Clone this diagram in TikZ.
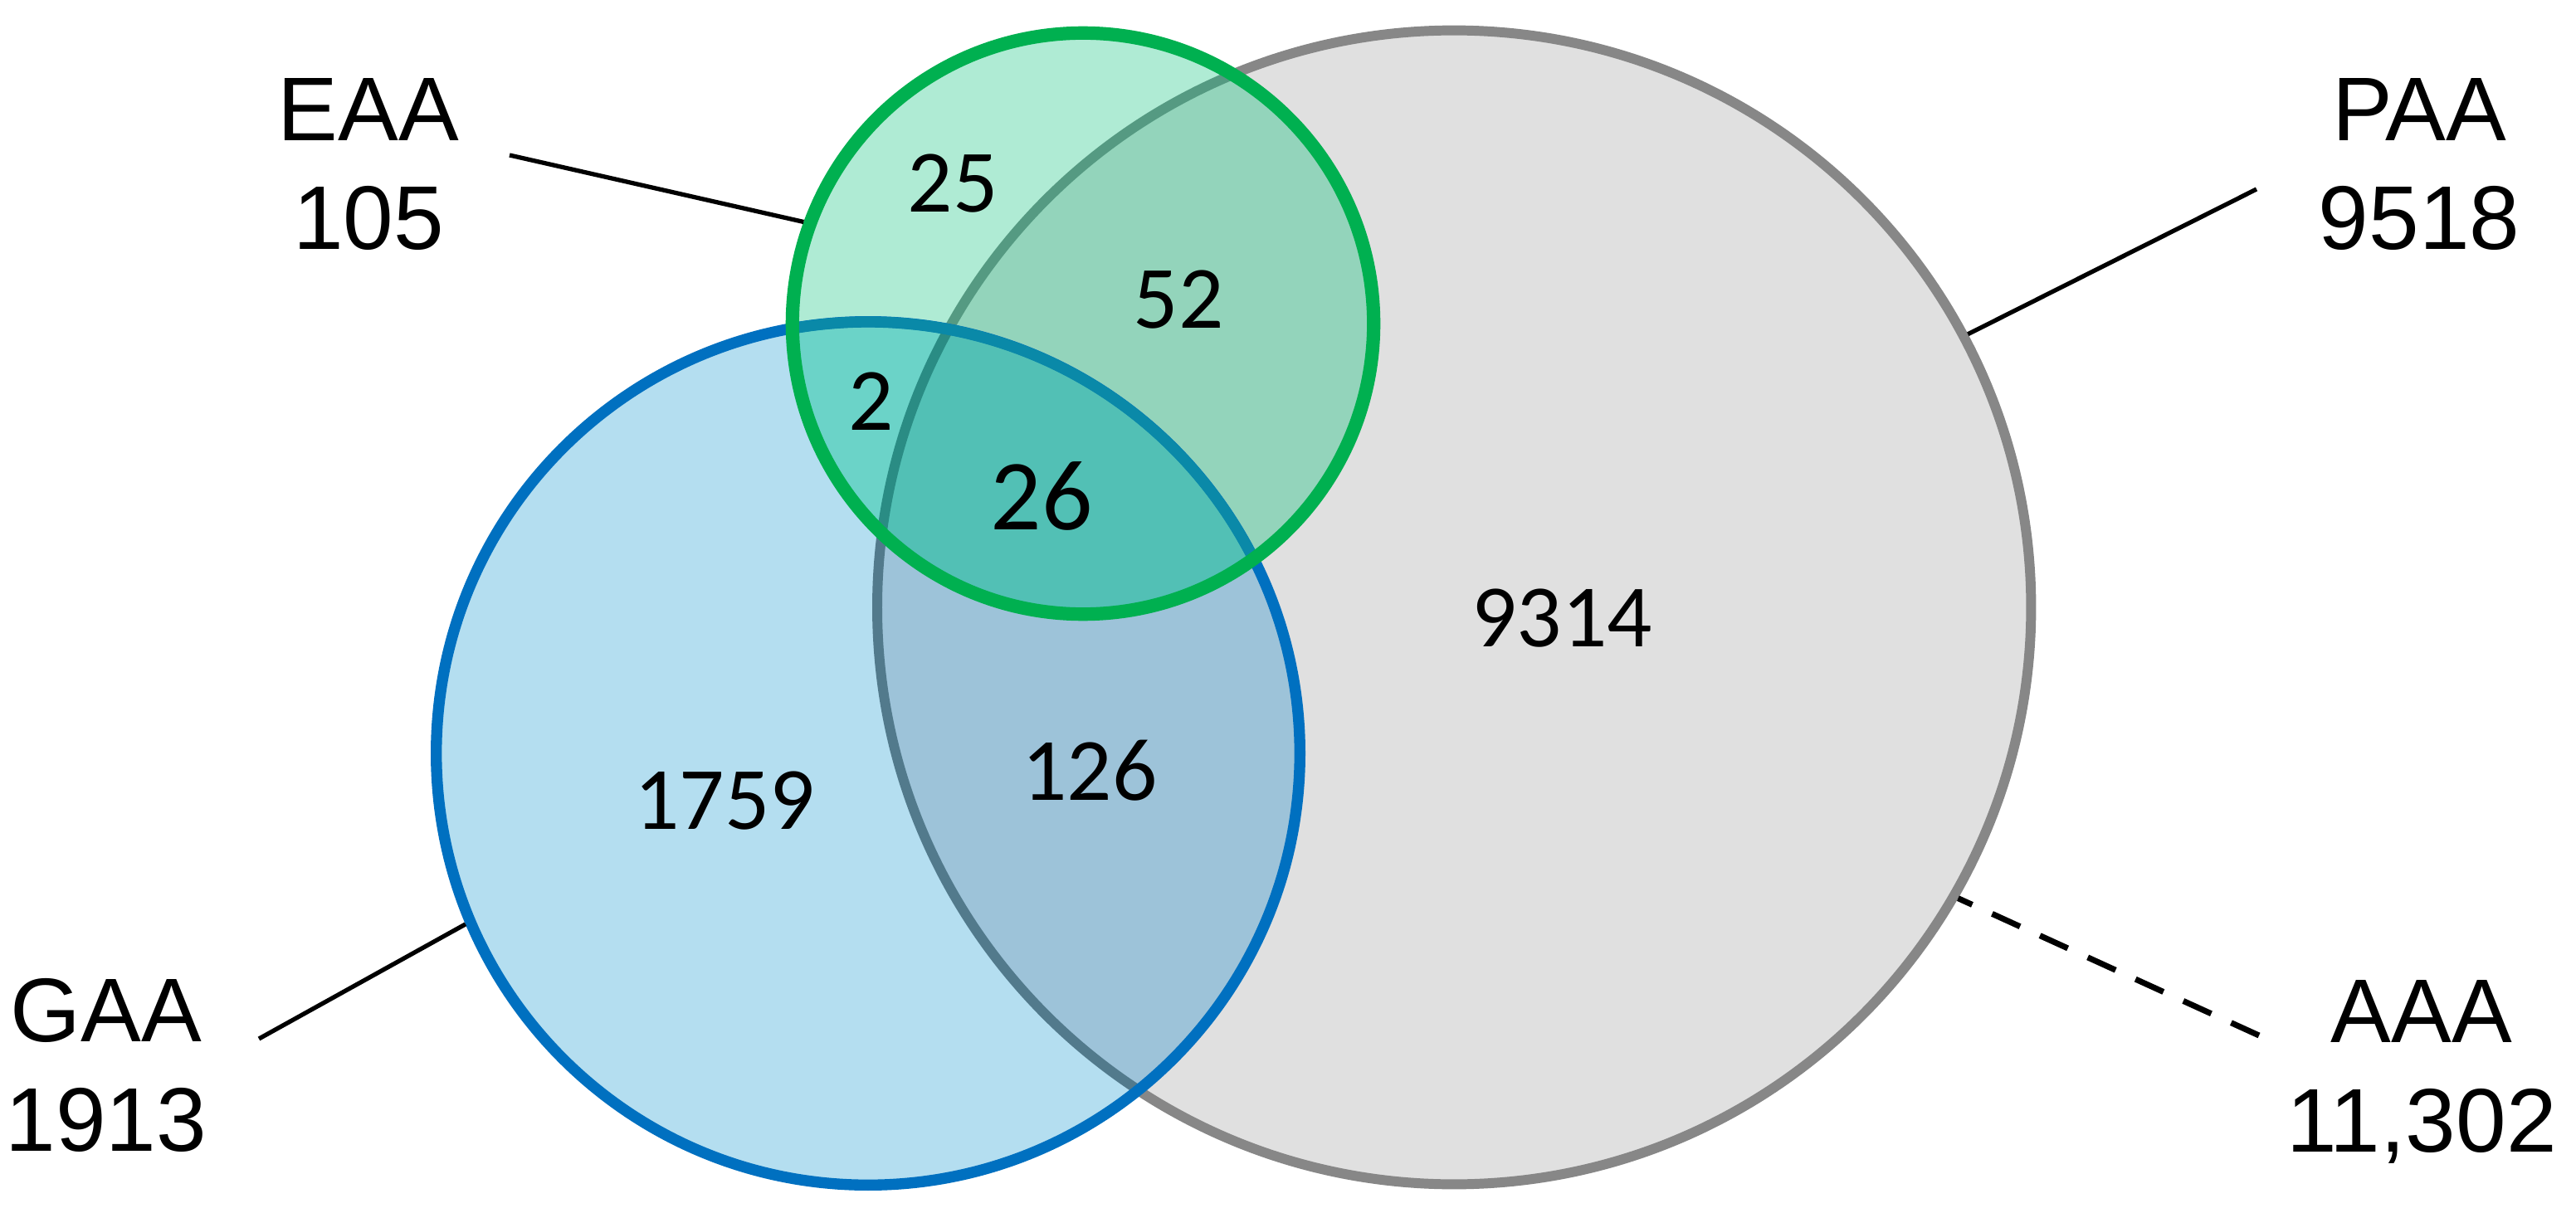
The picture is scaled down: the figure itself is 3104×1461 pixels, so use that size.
\documentclass[tikz,border=0pt]{standalone}
\usepackage{fontspec}
\setmainfont{Liberation Sans}
\newfontfamily\numfont{Carlito}
\definecolor{grayfill}{HTML}{E0E0E0}
\definecolor{grayline}{HTML}{878787}
\definecolor{blueline}{HTML}{0070C0}
\definecolor{greenline}{HTML}{00B050}
\definecolor{cG}{HTML}{B4DEF0}
\definecolor{cGP}{HTML}{9DC3D9}
\definecolor{cE}{HTML}{AFEBD4}
\definecolor{cEP}{HTML}{93D4BB}
\definecolor{cEG}{HTML}{6BD3C8}
\definecolor{cEGP}{HTML}{52C0B5}
\definecolor{lineGP}{HTML}{527A8C}
\definecolor{lineEP}{HTML}{559A82}
\definecolor{lineEGP}{HTML}{2A8C84}
\definecolor{lineEG}{HTML}{0A89A8}
\begin{document}
\begin{tikzpicture}[x=0.01cm,y=-0.01cm,
  setcirc/.style={circle,inner sep=0pt},
  paaset/.style={setcirc,draw=grayline,line width=3.4pt,minimum size=13.9cm},
  gaaset/.style={setcirc,draw=blueline,line width=3.8pt,minimum size=10.4cm},
  eaaset/.style={setcirc,draw=greenline,line width=4.6pt,minimum size=7.0cm},
  grayring/.style={line width=3.4pt},
  bluering/.style={line width=3.8pt},
  setlabel/.style={align=center,inner sep=0pt,font=\fontsize{31}{37.5}\selectfont},
  num/.style={inner sep=0pt,font=\numfont\fontsize{30.5}{36}\selectfont},
  bignum/.style={inner sep=0pt,font=\numfont\fontsize{34.5}{40}\selectfont},
  leader/.style={line width=1.5pt,black},
  dashleader/.style={line width=2pt,black,dash pattern=on 10.5pt off 7.5pt}
]
\useasboundingbox (0,0) rectangle (3104,1461);
\coordinate (cP) at (1752,732);
\coordinate (cG) at (1046,908);
\coordinate (cE) at (1305,390);
\def\rP{695}\def\rG{520}\def\rE{350}
% region fills
\fill[grayfill] (cP) circle[radius=\rP];
\fill[cG] (cG) circle[radius=\rG];
\begin{scope}
  \clip (cG) circle[radius=\rG];
  \fill[cGP] (cP) circle[radius=\rP];
  \draw[grayring,lineGP] (cP) circle[radius=\rP];
\end{scope}
\fill[cE] (cE) circle[radius=\rE];
\begin{scope}
  \clip (cE) circle[radius=\rE];
  \fill[cEP] (cP) circle[radius=\rP];
  \draw[grayring,lineEP] (cP) circle[radius=\rP];
  \fill[cEG] (cG) circle[radius=\rG];
  \begin{scope}
    \clip (cG) circle[radius=\rG];
    \fill[cEGP] (cP) circle[radius=\rP];
    \draw[grayring,lineEGP] (cP) circle[radius=\rP];
  \end{scope}
\end{scope}
% outlines (named set circles)
\begin{scope}[even odd rule]
  \clip (cG) circle[radius=\rG] (-100,-100) rectangle (3204,1561);
  \begin{scope}
    \clip (cE) circle[radius=\rE] (-100,-100) rectangle (3204,1561);
    \node[paaset] (P) at (cP) {};
  \end{scope}
\end{scope}
\node[gaaset] (G) at (cG) {};
\begin{scope}
  \clip (cE) circle[radius=\rE];
  \draw[bluering,lineEG] (cG) circle[radius=\rG];
\end{scope}
\node[eaaset] (E) at (cE) {};
% region counts
\node[num] (n25) at (1148,221) {25};
\node[num] (n52) at (1420,361) {52};
\node[num] (n2) at (1050,484) {2};
\node[bignum] (n26) at (1255,598) {26};
\node[num] (n9314) at (1882,745) {9314};
\node[num] (n1759) at (873,965) {1759};
\node[num] (n126) at (1313,929) {126};
% set labels
\node[setlabel] (lEAA) at (444,198) {EAA\\105};
\node[setlabel] (lPAA) at (2915,198) {PAA\\9518};
\node[setlabel] (lGAA) at (128,1284) {GAA\\1913};
\node[setlabel] (lAAA) at (2918,1292) {AAA\\11,302};
% leader lines
\coordinate (eaaend) at (614,187);
\coordinate (paaend) at (2719,228);
\coordinate (gaaend) at (312,1252);
\coordinate (aaaend) at (2722,1248);
\draw[leader] (eaaend) -- (E.160.5);
\draw[leader] (paaend) -- (P.28.8);
\draw[leader] (gaaend) -- (G.203.8);
\draw[dashleader] (aaaend) -- (P.330.5);
\end{tikzpicture}
\end{document}
